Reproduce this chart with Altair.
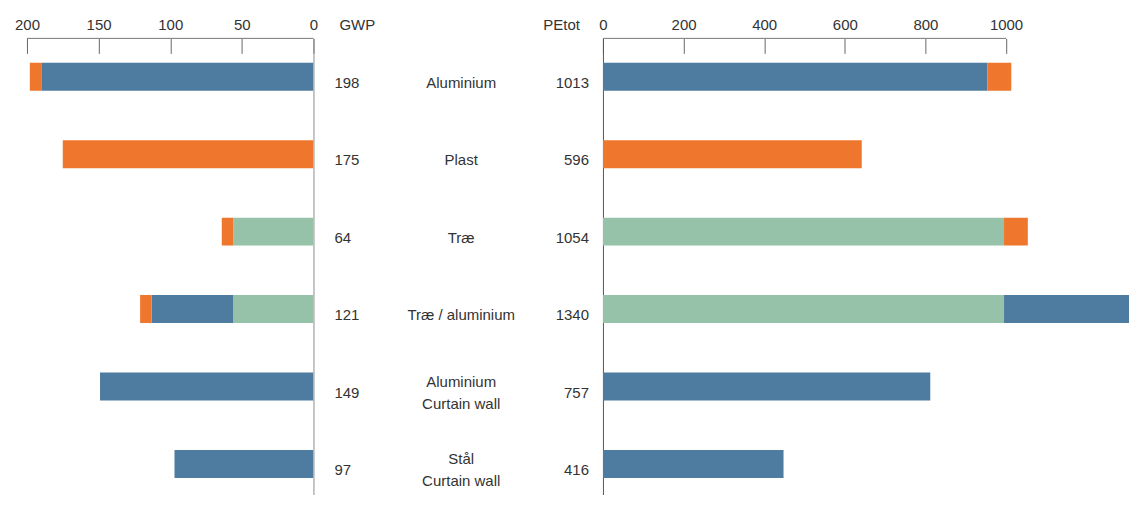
import altair as alt
import pandas as pd

# ---------------- data ----------------
categories = ["Aluminium", "Plast", "Træ", "Træ / aluminium",
              "Aluminium Curtain wall", "Stål Curtain wall"]
category_labels = ["Aluminium", "Plast", "Træ", "Træ / aluminium",
                   "Aluminium\nCurtain wall", "Stål\nCurtain wall"]

materials = ["Træ", "Metal", "Plast"]
material_colors = ["#95C2A8", "#4E7CA1", "#EE762D"]

# GWP segments
gwp_trae = [0, 0, 56, 56, 0, 0]
gwp_metal = [190, 0, 0, 57, 149, 97]
gwp_plast = [8, 175, 8, 8, 0, 0]
gwp_totals = ["198", "175", "64", "121", "149", "97"]

# PEtot segments
pe_trae = [0, 0, 995, 995, 0, 0]
pe_metal = [954, 0, 0, 345, 812, 448]
pe_plast = [59, 642, 59, 0, 0, 0]
pe_totals = ["1013", "596", "1054", "1340", "757", "416"]

gwp_ticks = [200, 150, 100, 50, 0]
pe_ticks = [0, 200, 400, 600, 800, 1000]
pe_view_max = 1305

# ---------------- tables ----------------
def long_table(trae, metal, plast):
    rows = []
    for i, c in enumerate(categories):
        for j, (m, vals) in enumerate(zip(materials, [trae, metal, plast])):
            if vals[i] > 0:
                rows.append({"cat": c, "material": m, "ord": j, "value": vals[i]})
    return pd.DataFrame(rows)

gwp_df = long_table(gwp_trae, gwp_metal, gwp_plast)
pe_df = long_table(pe_trae, pe_metal, pe_plast)
mid_df = pd.DataFrame({"cat": categories, "label": category_labels,
                       "lines": [lab.count("\n") + 1 for lab in category_labels],
                       "gwp": gwp_totals, "pe": pe_totals})

FONT = "'Liberation Sans', Arial, sans-serif"
FS = 15
TXT = "#333333"
H = 457

yscale = alt.Scale(domain=categories, paddingInner=0.639, paddingOuter=0.264, align=0.595)
color = alt.Color("material:N", scale=alt.Scale(domain=materials, range=material_colors), legend=None)


def top_axis(values):
    return alt.Axis(orient="top", values=values, format="d", offset=-15, tickSize=15,
                    domain=False, grid=False, title=None, labelPadding=6, labelFont=FONT,
                    labelFontSize=FS, labelColor=TXT, tickColor="#666666",
                    labelFlush=False, labelOverlap=False)

# ---------------- left (GWP) ----------------
left_bars = alt.Chart(gwp_df).mark_bar(clip=True).encode(
    x=alt.X("value:Q", stack="zero",
            scale=alt.Scale(domain=[0, gwp_ticks[0]], reverse=True, nice=False),
            axis=top_axis(gwp_ticks)),
    y=alt.Y("cat:N", scale=yscale,
            axis=alt.Axis(orient="right", labels=False, ticks=False, title=None,
                          domain=True, domainColor="#8c8c8c", grid=False)),
    color=color,
    order=alt.Order("ord:Q"),
)
left_line = alt.Chart(pd.DataFrame({"a": [gwp_ticks[0]], "b": [gwp_ticks[-1]]})).mark_rule(
    color="#777777").encode(x=alt.X("a:Q"), x2="b:Q", y=alt.value(0))
left = alt.layer(left_bars, left_line).properties(width=287, height=H)

# ---------------- middle (labels) ----------------
base_mid = alt.Chart(mid_df).encode(y=alt.Y("cat:N", scale=yscale, axis=None))
mid_gwp = base_mid.mark_text(align="left", baseline="middle", dy=6, font=FONT,
                             fontSize=FS, color=TXT).encode(x=alt.value(21), text="gwp:N")
mid_cat1 = base_mid.transform_filter(alt.datum.lines == 1).mark_text(
    align="center", baseline="middle", dy=6, font=FONT, fontSize=FS, color=TXT).encode(
    x=alt.value(148), text="label:N")
mid_cat2 = base_mid.transform_filter(alt.datum.lines == 2).mark_text(
    align="center", baseline="middle", dy=-5, font=FONT, fontSize=FS, color=TXT,
    lineBreak="\n", lineHeight=22).encode(x=alt.value(148), text="label:N")
mid_pe = base_mid.mark_text(align="right", baseline="middle", dy=6, font=FONT,
                            fontSize=FS, color=TXT).encode(x=alt.value(276), text="pe:N")
hdr_gwp = alt.Chart(pd.DataFrame({"t": ["GWP"]})).mark_text(
    align="left", baseline="alphabetic", font=FONT, fontSize=FS, color=TXT).encode(
    x=alt.value(26), y=alt.value(-8), text="t:N")
hdr_pe = alt.Chart(pd.DataFrame({"t": ["PEtot"]})).mark_text(
    align="right", baseline="alphabetic", font=FONT, fontSize=FS, color=TXT).encode(
    x=alt.value(267), y=alt.value(-8), text="t:N")
middle = alt.layer(mid_gwp, mid_cat1, mid_cat2, mid_pe, hdr_gwp, hdr_pe).properties(
    width=290, height=H)

# ---------------- right (PEtot) ----------------
right_bars = alt.Chart(pe_df).mark_bar(clip=True).encode(
    x=alt.X("value:Q", stack="zero",
            scale=alt.Scale(domain=[0, pe_view_max], nice=False),
            axis=top_axis(pe_ticks)),
    y=alt.Y("cat:N", scale=yscale,
            axis=alt.Axis(orient="left", labels=False, ticks=False, title=None,
                          domain=True, domainColor="#555555", grid=False)),
    color=color,
    order=alt.Order("ord:Q"),
)
right_line = alt.Chart(pd.DataFrame({"a": [pe_ticks[0]], "b": [pe_ticks[-1]]})).mark_rule(
    color="#777777").encode(x=alt.X("a:Q"), x2="b:Q", y=alt.value(0))
right = alt.layer(right_bars, right_line).properties(width=527, height=H)

chart = alt.hconcat(left, middle, right, spacing=0, bounds="flush").resolve_scale(
    x="independent", y="shared"
).properties(
    padding={"left": 6, "top": 9, "right": 0, "bottom": 0}
).configure(font=FONT, view=alt.ViewConfig(stroke=None))

chart.save("out.html", embed_options={"renderer": "svg", "actions": False})
